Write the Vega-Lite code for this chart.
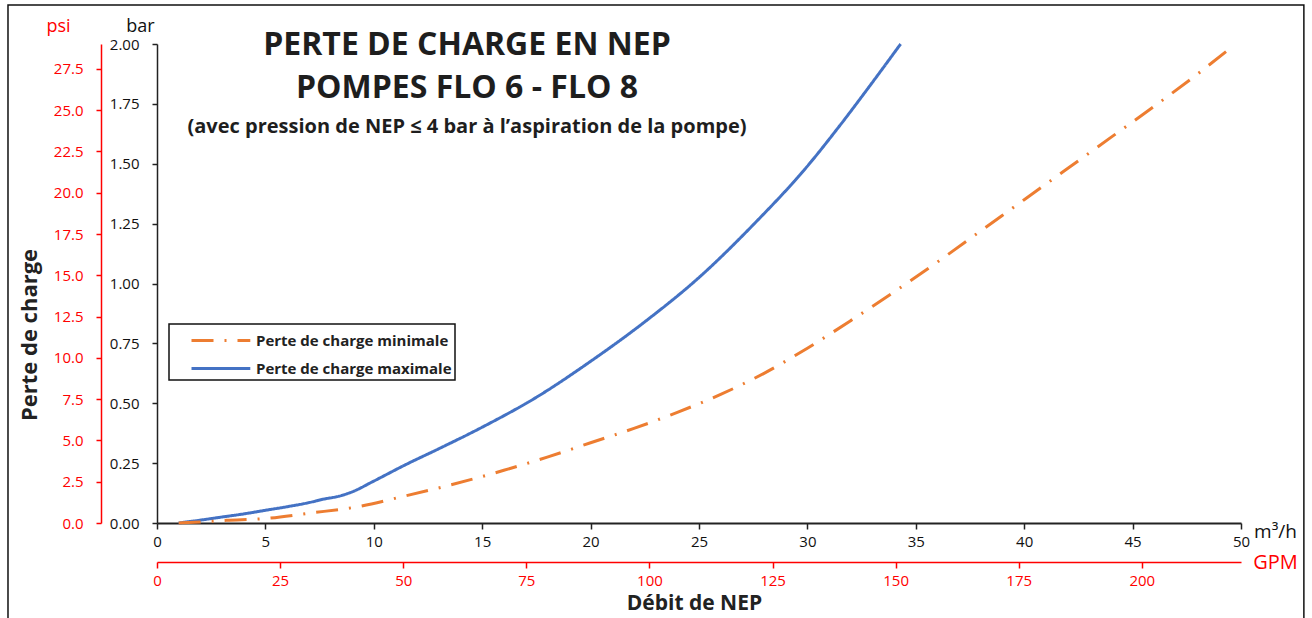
{
  "$schema": "https://vega.github.io/schema/vega-lite/v6.json",
  "width": 1084,
  "height": 479,
  "autosize": {"type": "none"},
  "padding": {"left": 157, "top": 44, "right": 71, "bottom": 95},
  "background": "white",
  "config": {
    "view": {"stroke": null},
    "font": "Open Sans",
    "axis": {"grid": false, "labelFont": "Open Sans", "titleFont": "Open Sans", "labelFlush": false, "labelOverlap": false, "labelBound": false},
    "legend": {"strokeWidth": 1.5}
  },
  "title": {
    "text": ["PERTE DE CHARGE EN NEP", "POMPES FLO 6 - FLO 8"],
    "subtitle": "(avec pression de NEP ≤ 4 bar à l’aspiration de la pompe)",
    "orient": "top",
    "anchor": "start",
    "align": "center",
    "frame": "group",
    "dx": 310,
    "offset": -134,
    "font": "Open Sans",
    "fontSize": 32,
    "fontWeight": "bold",
    "lineHeight": 43,
    "color": "#1e1e1e",
    "subtitleFont": "Open Sans",
    "subtitleFontSize": 20,
    "subtitleFontWeight": "bold",
    "subtitleColor": "#1e1e1e",
    "subtitlePadding": 12
  },
  "layer": [
    {
      "layer": [
        {
          "data": {
            "values": [
              {"debit": 1.0, "perte": 0.0, "serie": "Perte de charge maximale"},
              {"debit": 2.0, "perte": 0.012, "serie": "Perte de charge maximale"},
              {"debit": 3.0, "perte": 0.025, "serie": "Perte de charge maximale"},
              {"debit": 4.0, "perte": 0.038, "serie": "Perte de charge maximale"},
              {"debit": 5.0, "perte": 0.053, "serie": "Perte de charge maximale"},
              {"debit": 6.0, "perte": 0.068, "serie": "Perte de charge maximale"},
              {"debit": 7.0, "perte": 0.085, "serie": "Perte de charge maximale"},
              {"debit": 7.7, "perte": 0.1, "serie": "Perte de charge maximale"},
              {"debit": 8.4, "perte": 0.112, "serie": "Perte de charge maximale"},
              {"debit": 9.0, "perte": 0.13, "serie": "Perte de charge maximale"},
              {"debit": 10.0, "perte": 0.175, "serie": "Perte de charge maximale"},
              {"debit": 11.5, "perte": 0.245, "serie": "Perte de charge maximale"},
              {"debit": 13.0, "perte": 0.31, "serie": "Perte de charge maximale"},
              {"debit": 15.0, "perte": 0.4, "serie": "Perte de charge maximale"},
              {"debit": 17.5, "perte": 0.525, "serie": "Perte de charge maximale"},
              {"debit": 20.0, "perte": 0.675, "serie": "Perte de charge maximale"},
              {"debit": 22.5, "perte": 0.84, "serie": "Perte de charge maximale"},
              {"debit": 25.0, "perte": 1.025, "serie": "Perte de charge maximale"},
              {"debit": 27.5, "perte": 1.245, "serie": "Perte de charge maximale"},
              {"debit": 30.0, "perte": 1.49, "serie": "Perte de charge maximale"},
              {"debit": 31.5, "perte": 1.66, "serie": "Perte de charge maximale"},
              {"debit": 33.0, "perte": 1.84, "serie": "Perte de charge maximale"},
              {"debit": 34.3, "perte": 2.0, "serie": "Perte de charge maximale"},
              {"debit": 1.0, "perte": 0.0, "serie": "Perte de charge minimale"},
              {"debit": 2.0, "perte": 0.004, "serie": "Perte de charge minimale"},
              {"debit": 3.2, "perte": 0.011, "serie": "Perte de charge minimale"},
              {"debit": 4.9, "perte": 0.018, "serie": "Perte de charge minimale"},
              {"debit": 7.1, "perte": 0.042, "serie": "Perte de charge minimale"},
              {"debit": 9.2, "perte": 0.067, "serie": "Perte de charge minimale"},
              {"debit": 11.4, "perte": 0.112, "serie": "Perte de charge minimale"},
              {"debit": 13.5, "perte": 0.158, "serie": "Perte de charge minimale"},
              {"debit": 16.0, "perte": 0.22, "serie": "Perte de charge minimale"},
              {"debit": 18.0, "perte": 0.275, "serie": "Perte de charge minimale"},
              {"debit": 20.0, "perte": 0.335, "serie": "Perte de charge minimale"},
              {"debit": 22.0, "perte": 0.395, "serie": "Perte de charge minimale"},
              {"debit": 24.0, "perte": 0.462, "serie": "Perte de charge minimale"},
              {"debit": 26.0, "perte": 0.537, "serie": "Perte de charge minimale"},
              {"debit": 28.0, "perte": 0.625, "serie": "Perte de charge minimale"},
              {"debit": 30.0, "perte": 0.73, "serie": "Perte de charge minimale"},
              {"debit": 32.0, "perte": 0.845, "serie": "Perte de charge minimale"},
              {"debit": 34.0, "perte": 0.965, "serie": "Perte de charge minimale"},
              {"debit": 36.0, "perte": 1.09, "serie": "Perte de charge minimale"},
              {"debit": 38.0, "perte": 1.22, "serie": "Perte de charge minimale"},
              {"debit": 40.0, "perte": 1.35, "serie": "Perte de charge minimale"},
              {"debit": 42.0, "perte": 1.48, "serie": "Perte de charge minimale"},
              {"debit": 44.0, "perte": 1.61, "serie": "Perte de charge minimale"},
              {"debit": 46.0, "perte": 1.74, "serie": "Perte de charge minimale"},
              {"debit": 48.0, "perte": 1.875, "serie": "Perte de charge minimale"},
              {"debit": 49.4, "perte": 1.975, "serie": "Perte de charge minimale"}
            ]
          },
          "mark": {"type": "line", "strokeWidth": 3, "interpolate": "monotone", "strokeCap": "butt", "clip": false},
          "encoding": {
            "x": {
              "field": "debit", "type": "quantitative",
              "scale": {"domain": [0, 50], "nice": false, "zero": true},
              "axis": {
                "orient": "bottom",
                "values": [0, 5, 10, 15, 20, 25, 30, 35, 40, 45, 50],
                "format": "d",
                "domainColor": "#222", "domainWidth": 2,
                "tickColor": "#222", "tickSize": 6, "tickWidth": 1.5,
                "labelColor": "#111", "labelFontSize": 15, "labelPadding": 5,
                "title": "m³/h", "titleX": 1118, "titleY": 8, "titleAlign": "center", "titleBaseline": "middle",
                "titleFontSize": 19, "titleFontWeight": "normal", "titleColor": "#111"
              }
            },
            "y": {
              "field": "perte", "type": "quantitative",
              "scale": {"domain": [0, 2], "nice": false, "zero": true},
              "axis": {
                "orient": "left",
                "values": [0, 0.25, 0.5, 0.75, 1, 1.25, 1.5, 1.75, 2],
                "format": ".2f",
                "domainColor": "#222", "domainWidth": 1.5,
                "tickColor": "#222", "tickSize": 5, "tickWidth": 1.5,
                "labelColor": "#111", "labelFontSize": 15, "labelPadding": 13,
                "title": "bar", "titleAngle": 0, "titleX": -17, "titleY": -18, "titleAlign": "center", "titleBaseline": "middle",
                "titleFontSize": 18, "titleFontWeight": "normal", "titleColor": "#111"
              }
            },
            "color": {
              "field": "serie", "type": "nominal",
              "scale": {"domain": ["Perte de charge minimale", "Perte de charge maximale"], "range": ["#ED7D31", "#4472C4"]},
              "legend": {
                "title": null, "orient": "none", "legendX": 12, "legendY": 280,
                "symbolType": "M-1,0H3.9", "symbolSize": 576, "symbolStrokeWidth": 3, "symbolOffset": 18,
                "labelOffset": 39, "labelLimit": 400, "padding": 3, "rowPadding": 6, "strokeColor": "#111",
                "labelFont": "Open Sans", "labelFontSize": 15, "labelFontWeight": "bold", "labelColor": "#222"
              }
            },
            "strokeDash": {
              "field": "serie", "type": "nominal",
              "scale": {"domain": ["Perte de charge minimale", "Perte de charge maximale"], "range": [[22, 11, 2, 11], [1, 0]]},
              "legend": {
                "title": null, "orient": "none", "legendX": 12, "legendY": 280,
                "symbolType": "M-1,0H3.9", "symbolSize": 576, "symbolStrokeWidth": 3, "symbolOffset": 18,
                "labelOffset": 39, "labelLimit": 400, "padding": 3, "rowPadding": 6, "strokeColor": "#111",
                "labelFont": "Open Sans", "labelFontSize": 15, "labelFontWeight": "bold", "labelColor": "#222"
              }
            }
          }
        },
        {
          "data": {"values": [{}]},
          "mark": {"type": "text", "text": "Perte de charge", "angle": 270, "font": "Open Sans", "fontSize": 22, "fontWeight": "bold", "fill": "#222", "align": "center", "baseline": "middle", "clip": false},
          "encoding": {"x": {"datum": -5.86, "type": "quantitative"}, "y": {"datum": 0.785, "type": "quantitative"}}
        },
        {
          "data": {"values": [{}]},
          "mark": {"type": "text", "text": "Débit de NEP", "font": "Open Sans", "fontSize": 21, "fontWeight": "bold", "fill": "#222", "align": "center", "baseline": "middle", "clip": false},
          "encoding": {"x": {"datum": 24.79, "type": "quantitative"}, "y": {"datum": -0.338, "type": "quantitative"}}
        },
        {
          "data": {"values": [{}]},
          "mark": {"type": "rect", "fill": null, "fillOpacity": 0, "stroke": "#111", "strokeWidth": 1.5, "clip": false},
          "encoding": {
            "x": {"datum": -6.873, "type": "quantitative"}, "x2": {"datum": 52.9},
            "y": {"datum": 2.163, "type": "quantitative"}, "y2": {"datum": -0.5}
          }
        }
      ]
    },
    {
      "data": {"values": [{}]},
      "mark": {"type": "point", "opacity": 0},
      "encoding": {
        "x": {
          "datum": 0, "type": "quantitative",
          "scale": {"domain": [0, 220.14], "nice": false, "zero": true},
          "axis": {
            "orient": "bottom", "offset": 39,
            "values": [0, 25, 50, 75, 100, 125, 150, 175, 200],
            "format": "d",
            "domainColor": "#FF0000", "domainWidth": 1.5,
            "tickColor": "#FF0000", "tickSize": 6, "tickWidth": 1.5,
            "labelColor": "#FF0000", "labelFontSize": 15, "labelPadding": 5,
            "title": "GPM", "titleX": 1118, "titleY": 0, "titleAlign": "center", "titleBaseline": "middle",
            "titleFontSize": 20, "titleFontWeight": "normal", "titleColor": "#FF0000"
          }
        },
        "y": {
          "datum": 0, "type": "quantitative",
          "scale": {"domain": [0, 29.0075], "nice": false, "zero": true},
          "axis": {
            "orient": "left", "offset": 56,
            "values": [0, 2.5, 5, 7.5, 10, 12.5, 15, 17.5, 20, 22.5, 25, 27.5],
            "format": ".1f",
            "domainColor": "#FF0000", "domainWidth": 1.5,
            "tickColor": "#FF0000", "tickSize": 5, "tickWidth": 1.5,
            "labelColor": "#FF0000", "labelFontSize": 15, "labelPadding": 13,
            "title": "psi", "titleAngle": 0, "titleX": -43, "titleY": -18, "titleAlign": "center", "titleBaseline": "middle",
            "titleFontSize": 18, "titleFontWeight": "normal", "titleColor": "#FF0000"
          }
        }
      }
    }
  ],
  "resolve": {"scale": {"x": "independent", "y": "independent"}}
}
